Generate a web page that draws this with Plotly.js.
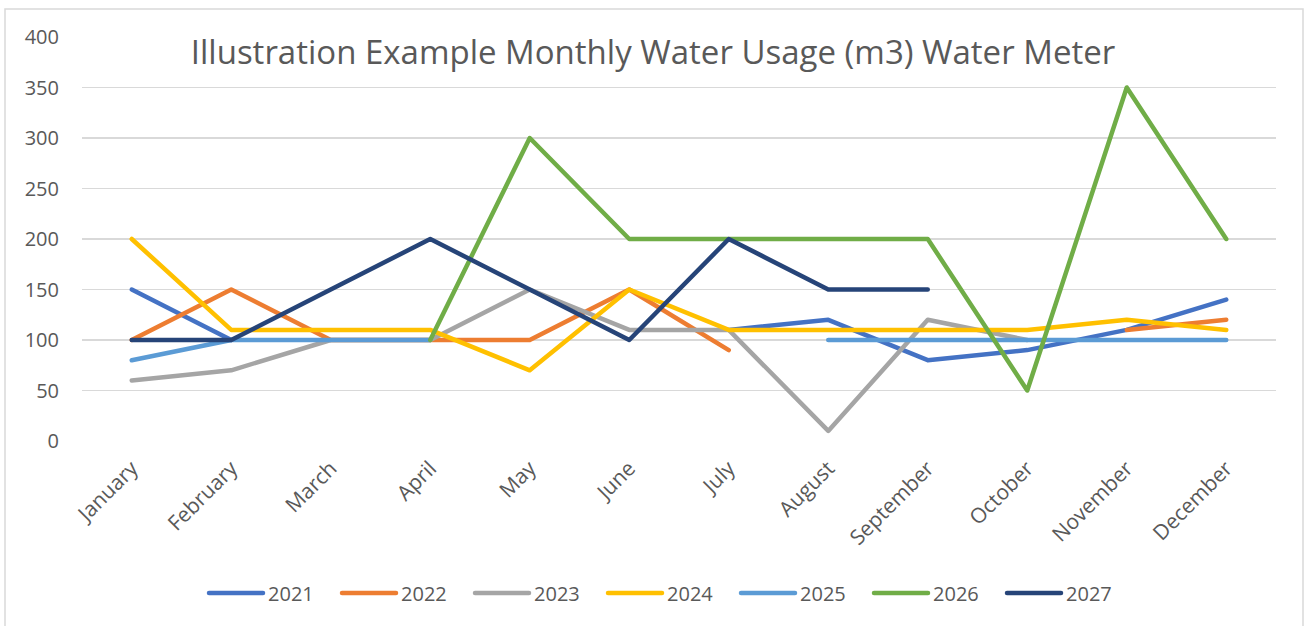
<!DOCTYPE html>
<html>
<head>
<meta charset="utf-8">
<script src="https://cdn.plot.ly/plotly-3.0.1.min.js"></script>
<style>
html,body{margin:0;padding:0;background:#fff;}
#chart{width:1306px;height:626px;}
.js-line{stroke-linecap:round;stroke-linejoin:round;}
</style>
</head>
<body>
<div id="chart"></div>
<script>
const months = ["January","February","March","April","May","June","July","August","September","October","November","December"];
const yTicks = [0,50,100,150,200,250,300,350,400];
const seriesNames = ["2021","2022","2023","2024","2025","2026","2027"];
const y2021 = [150,100,null,null,null,null,110,120,80,90,110,140];
const y2022 = [100,150,100,100,100,150,90,null,null,null,110,120];
const y2023 = [60,70,100,100,150,110,110,10,120,100,null,null];
const y2024 = [200,110,110,110,70,150,110,110,110,110,120,110];
const y2025 = [80,100,100,100,null,null,null,100,100,100,100,100];
const y2026 = [null,null,null,100,300,200,200,200,200,50,350,200];
const y2027 = [100,100,150,200,150,100,200,150,150,null,null,null];
const seriesValues = [y2021,y2022,y2023,y2024,y2025,y2026,y2027];
const colors = ["#4472C4","#ED7D31","#A5A5A5","#FFC000","#5B9BD5","#70AD47","#264478"];

const FONT = "Open Sans, Noto Sans, sans-serif";
const TXT = "#595959";

const traces = seriesNames.map((n,i)=>({
  type:"scatter", mode:"lines", name:n, x:months, y:seriesValues[i],
  line:{color:colors[i], width:4.5}, connectgaps:false, hoverinfo:"x+y+name"
}));

const mL=82, mR=30, mT=37, mB=185, W=1306, H=626;
const pw=W-mL-mR, ph=H-mT-mB;

const layout = {
  width:W, height:H,
  margin:{l:mL, r:mR, t:mT, b:mB, pad:0},
  paper_bgcolor:"#fff", plot_bgcolor:"#fff",
  font:{family:FONT, color:TXT, size:20},
  title:{text:"Illustration Example Monthly Water Usage (m3) Water Meter",
    font:{family:FONT, size:33, color:TXT},
    xref:"container", yref:"container", x:0.5, xanchor:"center", y:1-52/H, yanchor:"middle"},
  xaxis:{type:"category", range:[-0.5, months.length-0.5], tickangle:-45, showgrid:false, showline:false, zeroline:false,
    ticks:"", tickfont:{size:21, color:TXT}, ticklabelstandoff:10, fixedrange:true},
  yaxis:{range:[0,400], tickvals:yTicks, ticktext:yTicks.map(String), showgrid:true,
    gridcolor:"#d9d9d9", gridwidth:1.3, zeroline:false, showline:false, ticks:"",
    tickfont:{size:20, color:TXT}, ticklabelstandoff:22, fixedrange:true},
  showlegend:true,
  legend:{orientation:"h", xref:"container", yref:"container", x:0.505+10/W, xanchor:"center",
    y:1-593/H, yanchor:"middle", font:{size:20, color:TXT}, entrywidth:64, entrywidthmode:"pixels",
    itemwidth:54, tracegroupgap:0, bgcolor:"rgba(0,0,0,0)"},
  shapes:[{type:"rect", xref:"paper", yref:"paper",
    x0:(5-mL)/pw, x1:(1303-mL)/pw, y0:((H-mB)-640)/ph, y1:((H-mB)-9)/ph,
    line:{color:"#d9d9d9", width:1.5}, fillcolor:"rgba(0,0,0,0)", layer:"below"}]
};

Plotly.newPlot("chart", traces, layout, {displayModeBar:false, staticPlot:true});
</script>
</body>
</html>
